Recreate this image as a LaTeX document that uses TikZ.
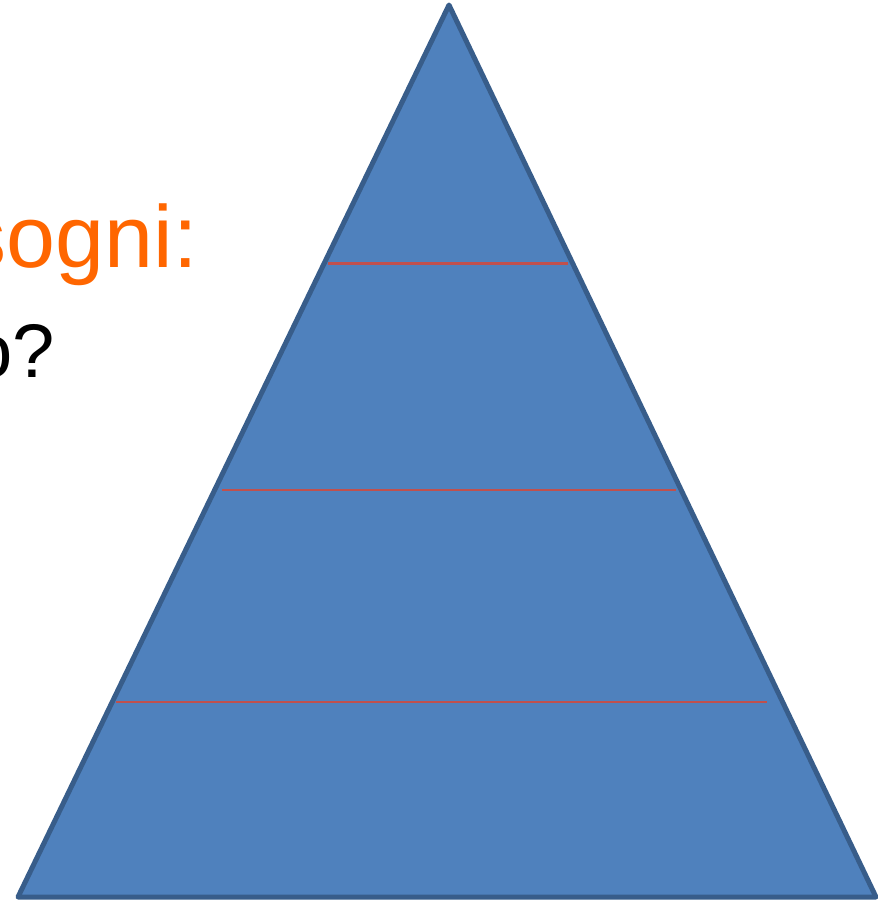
\documentclass[tikz,border=0pt]{standalone}
\usepackage{fontspec}
\setmainfont{Liberation Sans}
\definecolor{pyrfill}{HTML}{4F81BD}
\definecolor{pyrline}{HTML}{385D8A}
\definecolor{levline}{HTML}{C0504D}
\definecolor{orangetxt}{HTML}{FF6600}
\begin{document}
\begin{tikzpicture}[x=1pt,y=-1pt,
  pyramid/.style={fill=pyrfill,draw=pyrline,line width=5pt,line join=round},
  level/.style={draw=levline,line width=2.5pt},
  bigtext/.style={inner sep=0pt,anchor=base east}]
\useasboundingbox (0,0) rectangle (878,903);
\node[bigtext,text=orangetxt,font=\fontsize{88}{100}\selectfont] (t1) at (198,267) {sogni:};
\node[bigtext,text=black,font=\fontsize{76}{90}\selectfont] (t2) at (55,377) {o?};
\coordinate (apex) at (449,5);
\coordinate (bl) at (18,897);
\coordinate (br) at (876,897);
\draw[pyramid] (apex) -- (bl) -- (br) -- cycle;
\coordinate (a1) at (328,263); \coordinate (b1) at (568,263);
\coordinate (a2) at (222,490); \coordinate (b2) at (676,490);
\coordinate (a3) at (116,702); \coordinate (b3) at (767,702);
\draw[level,line width=3pt] (a1) -- (b1);
\draw[level] (a2) -- (b2);
\draw[level] (a3) -- (b3);
\end{tikzpicture}
\end{document}
